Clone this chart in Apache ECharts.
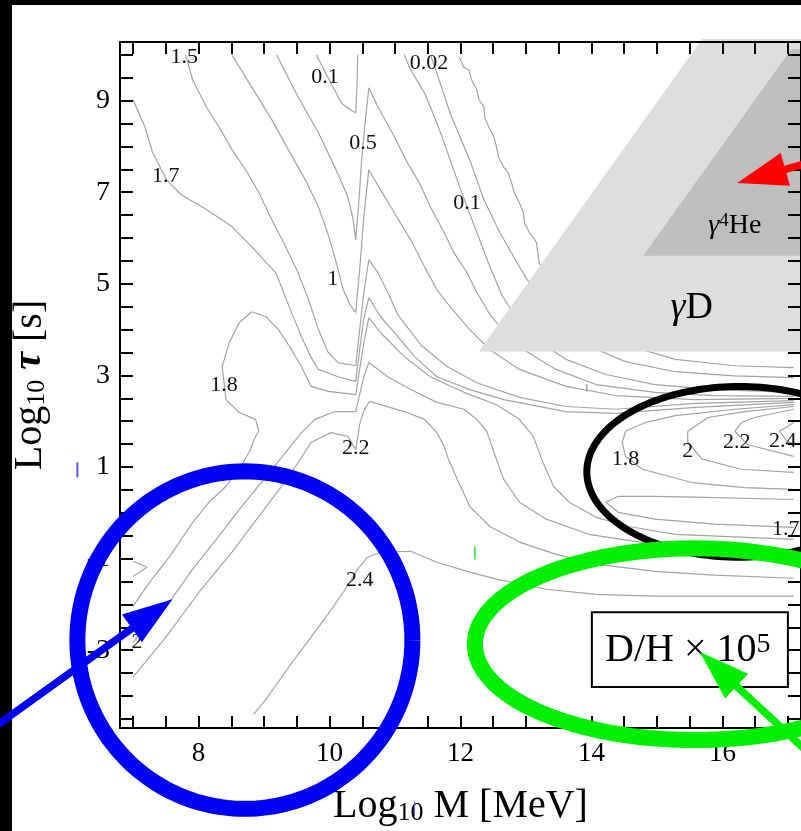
<!DOCTYPE html>
<html>
<head>
<meta charset="utf-8">
<script src="https://cdn.jsdelivr.net/npm/echarts@6/dist/echarts.min.js"></script>
<style>
html,body{margin:0;padding:0;background:#fff;}
#chart{width:801px;height:831px;}
</style>
</head>
<body>
<div id="chart"></div>
<script>
// ---------- axes ----------
const xTicks = [7,7.5,8,8.5,9,9.5,10,10.5,11,11.5,12,12.5,13,13.5,14,14.5,15,15.5,16,16.5,17];
const xLabels = [8,10,12,14,16];
const yTicks = [-4.5,-4,-3.5,-3,-2.5,-2,-1.5,-1,-0.5,0,0.5,1,1.5,2,2.5,3,3.5,4,4.5,5,5.5,6,6.5,7,7.5,8,8.5,9,9.5,10];
const yLabels = [-3,-1,1,3,5,7,9];

// ---------- contour lines (x = log10 M, y = log10 tau) ----------
const contour_0_1_top = [[9.80,10.00],[9.90,9.71],[10.02,9.39],[10.18,8.95],[10.28,8.84],[10.40,8.73],[10.42,9.34],[10.43,10.00]];
const contour_0_5 = [[9.19,10.00],[9.52,9.08],[9.83,8.30],[10.08,7.55],[10.28,6.90],[10.36,6.40],[10.40,5.96],[10.45,6.83],[10.49,7.71],[10.54,8.47],[10.60,9.28],[10.74,8.86],[10.99,8.21],[11.19,7.64],[11.37,7.21],[11.54,6.68],[11.75,6.12],[11.90,5.68],[12.10,5.24],[12.25,4.81],[12.45,4.33],[12.70,3.89],[13.01,3.52],[13.46,3.13],[14.07,2.80],[14.97,2.63],[15.88,2.56],[17.09,2.54]];
const contour_1 = [[8.51,10.00],[8.81,9.30],[9.12,8.58],[9.37,7.93],[9.63,7.27],[9.83,6.68],[9.98,6.07],[10.10,5.48],[10.21,4.87],[10.31,4.55],[10.40,4.37],[10.46,5.31],[10.52,6.40],[10.60,7.49],[10.78,7.05],[10.99,6.55],[11.24,5.96],[11.45,5.37],[11.64,4.87],[11.84,4.50],[12.14,4.00],[12.45,3.56],[12.90,3.13],[13.61,2.76],[14.37,2.56],[15.58,2.47],[17.09,2.50]];
const contour_1_5 = [[7.80,10.00],[7.91,9.45],[8.12,8.86],[8.31,8.43],[8.51,7.93],[8.72,7.49],[8.92,6.99],[9.12,6.40],[9.33,5.81],[9.52,5.24],[9.68,4.65],[9.83,4.00],[9.98,3.50],[10.13,3.28],[10.40,3.21],[10.46,4.00],[10.52,4.76],[10.60,5.53],[10.74,5.24],[10.89,4.81],[11.04,4.33],[11.39,3.67],[11.80,3.19],[12.25,2.84],[12.90,2.52],[13.61,2.32],[14.37,2.26],[15.58,2.39],[17.09,2.45]];
const contour_1_7 = [[7.00,9.02],[7.18,8.43],[7.30,7.86],[7.51,7.27],[7.74,6.94],[8.12,6.62],[8.51,6.25],[8.81,5.81],[9.18,5.24],[9.42,4.37],[9.57,3.85],[9.71,3.41],[9.83,3.13],[10.13,2.97],[10.40,2.87],[10.46,3.56],[10.52,4.22],[10.60,4.70],[10.78,4.28],[11.04,3.85],[11.30,3.41],[11.64,2.97],[12.14,2.69],[12.66,2.47],[13.61,2.21],[14.37,2.17],[15.58,2.30],[17.09,2.41]];
const contour_1_8 = [[7.00,-2.04],[7.25,-1.52],[7.56,-0.95],[7.91,-0.21],[8.16,0.23],[8.42,0.58],[8.62,0.95],[8.77,1.32],[8.87,1.67],[8.92,1.78],[8.87,2.04],[8.62,2.19],[8.42,2.47],[8.36,3.19],[8.47,3.72],[8.62,4.15],[8.81,4.39],[9.03,4.28],[9.22,4.00],[9.42,3.56],[9.57,3.19],[9.72,2.76],[9.98,2.65],[10.40,2.58],[10.46,3.13],[10.52,3.67],[10.60,4.26],[10.78,3.93],[11.14,3.41],[11.54,2.97],[12.05,2.63],[12.55,2.36],[12.90,2.04],[13.11,1.67],[13.26,1.10],[13.42,0.58],[13.66,0.23],[14.07,-0.10],[14.57,-0.30],[15.28,-0.47],[17.09,-0.58]];
const contour_2_0 = [[7.00,-2.83],[7.18,-2.50],[7.51,-2.04],[7.91,-1.23],[8.31,-0.51],[8.66,0.14],[9.03,0.79],[9.33,1.32],[9.57,1.75],[9.78,2.04],[10.08,2.21],[10.40,2.21],[10.46,2.58],[10.52,2.95],[10.60,3.28],[10.89,2.97],[11.24,2.69],[11.64,2.41],[12.05,2.26],[12.25,2.04],[12.40,1.78],[12.51,1.32],[12.66,0.73],[12.90,0.23],[13.31,-0.14],[13.96,-0.47],[14.97,-0.69],[15.88,-0.80],[17.09,-0.91]];
const contour_2_2 = [[7.00,-3.59],[7.51,-2.70],[8.01,-1.73],[8.51,-0.86],[8.92,-0.08],[9.27,0.58],[9.48,1.01],[9.72,1.54],[10.02,1.75],[10.28,1.67],[10.40,1.38],[10.46,1.93],[10.52,2.21],[10.61,2.43],[10.78,2.36],[11.14,2.21],[11.45,2.04],[11.64,1.75],[11.75,1.45],[11.80,1.23],[11.95,0.73],[12.14,0.14],[12.45,-0.30],[12.90,-0.64],[13.46,-0.91],[14.07,-1.12],[14.97,-1.28],[15.88,-1.36],[17.09,-1.43]];
const contour_2_4 = [[8.84,-4.40],[9.03,-4.07],[9.52,-3.09],[9.98,-2.21],[10.24,-1.67],[10.43,-1.23],[10.58,-0.97],[10.78,-0.86],[11.24,-0.84],[11.64,-1.08],[12.10,-1.28],[12.55,-1.45],[13.31,-1.67],[14.07,-1.78],[14.97,-1.82],[17.09,-1.82]];
const contour_0_1 = [[11.14,10.00],[11.24,9.67],[11.45,9.17],[11.64,8.51],[11.75,8.08],[11.95,7.27],[12.10,6.68],[12.25,6.12],[12.45,5.37],[12.63,4.76],[12.86,4.22],[13.16,3.78],[13.61,3.35],[14.22,3.02],[14.97,2.80],[15.88,2.69],[17.09,2.63]];
const contour_0_02 = [[11.54,10.00],[11.64,9.60],[11.84,8.73],[12.14,7.71],[12.36,6.83],[12.60,6.12],[12.90,5.37],[13.16,4.76],[13.46,4.22],[13.91,3.67],[14.52,3.30],[15.28,3.08],[16.19,2.99],[17.09,2.95]];
const contour_outer = [[11.98,9.95],[12.05,9.73],[12.13,9.67],[12.17,9.45],[12.25,9.23],[12.28,9.02],[12.36,8.86],[12.37,8.64],[12.43,8.43],[12.51,8.21],[12.55,7.99],[12.58,7.77],[12.66,7.55],[12.73,7.42],[12.78,7.21],[12.82,6.99],[12.90,6.77],[12.96,6.55],[12.98,6.33],[13.05,6.12],[13.11,6.01],[13.16,5.90],[13.20,5.46],[13.46,4.87],[13.91,4.22],[14.52,3.67],[15.28,3.35],[16.19,3.21],[17.09,3.17]];
const contour_1_8_right = [[17.09,2.36],[16.19,2.26],[15.28,2.12],[14.82,1.97],[14.52,1.78],[14.47,1.54],[14.52,1.23],[14.78,0.95],[15.53,0.66],[16.34,0.55],[17.09,0.51]];
const contour_2_0_right = [[17.09,2.32],[16.34,2.21],[15.78,2.08],[15.47,1.78],[15.47,1.54],[15.69,1.17],[16.29,0.95],[17.09,0.88]];
const contour_2_2_right = [[17.09,2.26],[16.49,2.08],[16.29,1.97],[16.19,1.78],[16.38,1.49],[17.09,1.23]];
const contour_2_4_right = [[17.09,1.97],[16.87,1.78],[16.99,1.56],[17.09,1.49]];
const contour_1_7_right = [[17.09,0.29],[15.58,0.34],[14.97,0.36],[14.41,0.36],[14.22,0.23],[14.41,0.01],[14.97,-0.14],[15.88,-0.25],[17.09,-0.32]];
const contour_edge = [[7.00,-1.39],[7.21,-1.19],[7.00,-1.06]];

// ---------- contour value labels ----------
const labelText = ['1.5','0.1','0.02','0.5','1.7','0.1','1','1.8','2.2','2.4','2','1.8','2','2.2','2.4','1.75'];
const labelX = [7.78, 9.93, 11.52, 10.51, 7.50, 12.10, 10.05, 8.39, 10.40, 10.46, 7.06, 14.52, 15.47, 16.22, 16.92, 17.05];
const labelY = [9.95, 9.52, 9.82, 8.06, 7.36, 6.77, 5.11, 2.78, 1.41, -1.47, -2.83, 1.17, 1.34, 1.54, 1.56, -0.36];

// ---------- annotations ----------
const regionGammaD = [[15.69,10.345],[17.4,10.345],[17.4,3.52],[12.28,3.52]];
const regionGammaHe = [[14.79,5.61],[17.05,10.12],[17.4,10.12],[17.4,5.61]];
const regionNames = ['{g|γ}{a|D}', '{g|γ}{p|4}{a|He}'];
const regionNameX = [15.53, 16.19];
const regionNameY = [4.48, 6.27];
const blueCircle = [8.707, -2.78, 2.558, 3.685];
const blackEllipse = [16.26, 0.893, 2.331, 1.864];
const greenEllipse = [15.58, -2.87, 3.36, 2.093];
const blueArrow = [4.908, -4.657, 7.602, -1.888];
const greenArrow = [17.548, -5.551, 15.656, -3.043];
const redArrow = [17.70, 7.80, 16.226, 7.199];
const boxCorners = [14.006, -2.17, 17.00, -3.807];
const boxTextPos = [15.47, -3.00];
const strayMarks = [
  [6.149, 1.10, 6.149, 0.77, '#5a5aff', 2],
  [11.296, -6.31, 11.296, -6.62, '#4a4aff', 1],
  [12.22, -0.73, 12.22, -1.02, '#33dd33', 1.5],
  [13.93, 2.82, 13.93, 2.65, '#777777', 1]
];

const SERIF = 'Liberation Serif';
const contourColor = '#a3a3a3';
const contours = [contour_0_1_top, contour_0_5, contour_1, contour_1_5, contour_1_7, contour_1_8,
  contour_2_0, contour_2_2, contour_2_4, contour_0_1, contour_0_02, contour_outer,
  contour_1_8_right, contour_2_0_right, contour_2_2_right, contour_2_4_right, contour_1_7_right, contour_edge];

function ellipseSeries(par, color, width, z) {
  return {
    type: 'custom', z: z, silent: true, animation: false, clip: false,
    data: [par],
    renderItem: function (p, api) {
      const cx = api.value(0), cy = api.value(1), rx = api.value(2), ry = api.value(3);
      const pts = [];
      for (let i = 0; i <= 180; i++) {
        const t = i / 180 * 2 * Math.PI;
        pts.push(api.coord([cx + rx * Math.cos(t), cy + ry * Math.sin(t)]));
      }
      return { type: 'polyline', shape: { points: pts }, style: { stroke: color, lineWidth: width, fill: null } };
    }
  };
}
function arrowSeries(par, color, z) {
  return {
    type: 'custom', z: z, silent: true, animation: false, clip: false,
    data: [par],
    renderItem: function (p, api) {
      const a = api.coord([api.value(0), api.value(1)]);
      const b = api.coord([api.value(2), api.value(3)]);
      const dx = b[0] - a[0], dy = b[1] - a[1], L = Math.hypot(dx, dy);
      const ux = dx / L, uy = dy / L, hl = 50, hw = 17;
      const bx = b[0] - ux * hl, by = b[1] - uy * hl;
      return { type: 'group', children: [
        { type: 'line', shape: { x1: a[0], y1: a[1], x2: bx + ux * 8, y2: by + uy * 8 }, style: { stroke: color, lineWidth: 7.5 } },
        { type: 'polygon', shape: { points: [b, [bx - uy * hw, by + ux * hw], [bx + uy * hw, by - ux * hw]] }, style: { fill: color } }
      ]};
    }
  };
}
function polygonSeries(poly, color, z) {
  return {
    type: 'custom', z: z, silent: true, animation: false, clip: false,
    data: [poly[0]],
    renderItem: function (p, api) {
      return { type: 'polygon', shape: { points: poly.map(v => api.coord(v)) }, style: { fill: color } };
    }
  };
}

const series = [];
contours.forEach(function (d) {
  series.push({ type: 'line', data: d, symbol: 'none', showSymbol: false, z: 1, silent: true, animation: false,
    lineStyle: { color: contourColor, width: 1.2 } });
});
series.push(polygonSeries(regionGammaD, '#dedede', 2));
series.push(polygonSeries(regionGammaHe, '#bebebe', 2));
series.push({
  type: 'custom', z: 4, silent: true, animation: false, clip: false,
  data: regionNames.map((t, i) => [regionNameX[i], regionNameY[i], i]),
  renderItem: function (p, api) {
    const c = api.coord([api.value(0), api.value(1)]);
    const i = api.value(2);
    const big = i === 0 ? 38 : 28;
    return { type: 'text', x: c[0], y: c[1], style: { text: regionNames[i], align: 'center', verticalAlign: 'middle',
      rich: {
        g: { fontFamily: SERIF, fontSize: big, fontStyle: 'italic', fill: '#000', lineHeight: big },
        a: { fontFamily: SERIF, fontSize: big, fill: '#000', lineHeight: big },
        p: { fontFamily: SERIF, fontSize: 19, fill: '#000', verticalAlign: 'top', lineHeight: 16 }
      } } };
  }
});
series.push({
  type: 'custom', z: 4, silent: true, animation: false, clip: false,
  data: labelText.map((t, i) => [labelX[i], labelY[i], i]),
  renderItem: function (p, api) {
    const c = api.coord([api.value(0), api.value(1)]);
    return { type: 'text', x: c[0], y: c[1], style: { text: labelText[api.value(2)], fontFamily: SERIF, fontSize: 22,
      fill: '#111', align: 'center', verticalAlign: 'middle' } };
  }
});
series.push({
  type: 'custom', z: 4, silent: true, animation: false, clip: false,
  data: [boxCorners],
  renderItem: function (p, api) {
    const p1 = api.coord([api.value(0), api.value(1)]);
    const p2 = api.coord([api.value(2), api.value(3)]);
    const t = api.coord(boxTextPos);
    return { type: 'group', children: [
      { type: 'rect', shape: { x: p1[0], y: p1[1], width: p2[0] - p1[0], height: p2[1] - p1[1] },
        style: { fill: '#fff', stroke: '#000', lineWidth: 2 } },
      { type: 'text', x: t[0], y: t[1], style: { text: '{a|D/H × 10}{p|5}', align: 'center', verticalAlign: 'middle',
        rich: { a: { fontFamily: SERIF, fontSize: 40, fill: '#000', lineHeight: 40 },
                p: { fontFamily: SERIF, fontSize: 28, fill: '#000', verticalAlign: 'top', lineHeight: 22 } } } }
    ]};
  }
});
series.push({
  type: 'custom', z: 4, silent: true, animation: false, clip: false,
  data: strayMarks,
  renderItem: function (p, api) {
    const a = api.coord([api.value(0), api.value(1)]);
    const b = api.coord([api.value(2), api.value(3)]);
    const m = strayMarks[p.dataIndex];
    return { type: 'line', shape: { x1: a[0], y1: a[1], x2: b[0], y2: b[1] }, style: { stroke: m[4], lineWidth: m[5] } };
  }
});
series.push(ellipseSeries(blackEllipse, '#000000', 7, 5));
series.push(ellipseSeries(blueCircle, '#0000f2', 16, 5));
series.push(ellipseSeries(greenEllipse, '#00ee00', 16, 5));
series.push(arrowSeries(blueArrow, '#0000f2', 6));
series.push(arrowSeries(greenArrow, '#00ee00', 6));
series.push(arrowSeries(redArrow, '#ff0000', 6));

const tickStyle = { show: true, inside: true, lineStyle: { color: '#000', width: 2 } };
const lineStyle = { show: true, onZero: false, lineStyle: { color: '#000', width: 2 } };

const option = {
  animation: false,
  backgroundColor: '#fff',
  grid: { left: 120, top: 42, width: 687, height: 687 },
  xAxis: [
    { type: 'value', min: 6.8, max: 17.2, position: 'bottom', z: 3,
      axisLine: lineStyle, splitLine: { show: false },
      axisTick: Object.assign({}, tickStyle, { length: 12, customValues: xTicks }),
      axisLabel: { show: true, customValues: xLabels, fontFamily: SERIF, fontSize: 27, color: '#000', margin: 12 },
      name: '{a|Log}{s|10}{a| M [MeV]}', nameLocation: 'middle', nameGap: 58,
      nameTextStyle: { rich: {
        a: { fontFamily: SERIF, fontSize: 40, color: '#000', lineHeight: 40 },
        s: { fontFamily: SERIF, fontSize: 26, color: '#000', lineHeight: 10, verticalAlign: 'bottom' } } } },
    { type: 'value', min: 6.8, max: 17.2, position: 'top', z: 3,
      axisLine: lineStyle, splitLine: { show: false },
      axisTick: Object.assign({}, tickStyle, { length: 12, customValues: xTicks }),
      axisLabel: { show: false } }
  ],
  yAxis: [
    { type: 'value', min: -4.7, max: 10.28, position: 'left', z: 3,
      axisLine: lineStyle, splitLine: { show: false },
      axisTick: Object.assign({}, tickStyle, { length: 13, customValues: yTicks }),
      axisLabel: { show: true, customValues: yLabels, fontFamily: SERIF, fontSize: 28, color: '#000', margin: 10 },
      name: '{a|Log}{s|10}{a| }{t|τ}{a| [s]}', nameLocation: 'middle', nameRotate: 90, nameGap: 70,
      nameTextStyle: { rich: {
        a: { fontFamily: SERIF, fontSize: 40, color: '#000', lineHeight: 40 },
        t: { fontFamily: SERIF, fontSize: 40, color: '#000', lineHeight: 40, fontStyle: 'italic', fontWeight: 'bold' },
        s: { fontFamily: SERIF, fontSize: 26, color: '#000', lineHeight: 10, verticalAlign: 'bottom' } } } },
    { type: 'value', min: -4.7, max: 10.28, position: 'right', z: 3,
      axisLine: lineStyle, splitLine: { show: false },
      axisTick: Object.assign({}, tickStyle, { length: 13, customValues: yTicks }),
      axisLabel: { show: false } }
  ],
  graphic: [
    { type: 'rect', z: 0, silent: true, shape: { x: 0, y: 0, width: 801, height: 5 }, style: { fill: '#000' } },
    { type: 'rect', z: 0, silent: true, shape: { x: 0, y: 0, width: 12, height: 831 }, style: { fill: '#000' } }
  ],
  series: series
};

const chart = echarts.init(document.getElementById('chart'), null, { renderer: 'canvas' });
chart.setOption(option);
</script>
</body>
</html>
